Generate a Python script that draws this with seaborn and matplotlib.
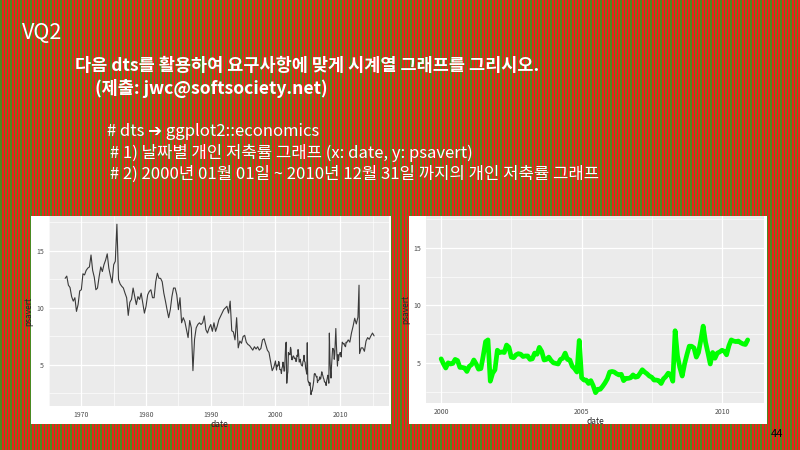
import numpy as np
import pandas as pd
import seaborn as sns
import matplotlib.pyplot as plt
import matplotlib.patches as mpatches

sns.set_theme(style="darkgrid")
plt.rcParams['font.family'] = ['Noto Sans CJK KR', 'DejaVu Sans']

# psavert: quarterly 1967Q3-1999Q4
early_psavert = [12.6, 12.8, 12.0, 11.8, 11.0, 10.6, 10.9, 9.7, 10.3, 11.5,
                 11.6, 13.0, 12.9, 13.3, 13.5, 13.6, 14.65, 13.3, 12.7, 11.6,
                 11.75, 12.75, 13.6, 13.2, 13.8, 14.2, 14.75, 13.5, 12.8, 12.2,
                 13.8, 14.1, 17.35, 12.5, 12.1, 11.9, 11.75, 11.3, 10.9, 9.35,
                 10.5, 10.75, 11.75, 11.0, 10.3, 11.0, 10.75, 11.3, 10.45, 9.55,
                 10.15, 11.15, 11.45, 11.6, 10.9, 10.9, 12.3, 13.05, 12.6, 12.6,
                 12.3, 11.3, 10.6, 9.85, 9.15, 9.85, 11.0, 11.75, 11.75, 11.15,
                 9.85, 10.9, 8.7, 9.15, 8.8, 8.1, 7.4, 8.9, 8.25, 4.5,
                 7.25, 8.25, 8.55, 8.7, 8.55, 8.7, 9.3, 8.1, 7.8, 8.25,
                 8.55, 7.95, 8.7, 7.95, 8.4, 8.95, 9.25, 9.55, 9.85, 10.0,
                 10.15, 9.55, 10.6, 8.0, 7.9, 7.2, 9.15, 6.5, 7.1, 6.9,
                 7.5, 7.6, 7.0, 6.8, 6.7, 6.5, 6.3, 6.6, 6.4, 6.6,
                 6.3, 6.45, 7.2, 7.3, 6.8, 6.3, 6.1, 5.3, 4.5, 4.8]

# monthly 2000-01 .. 2010-12 (right panel)
sub_psavert = [5.35, 4.9, 4.55, 5.0, 4.9, 4.95, 5.3, 5.2, 4.6, 4.6, 4.55, 4.25,
               4.7, 4.85, 5.25, 4.9, 4.45, 4.5, 5.6, 6.85, 7.0, 3.4, 4.1, 4.4,
               6.1, 5.9, 5.95, 5.9, 6.55, 6.35, 5.5, 5.45, 5.7, 5.8, 5.75, 5.55,
               5.6, 5.6, 5.3, 5.35, 5.85, 5.75, 6.35, 6.0, 5.25, 5.3, 5.5, 5.2,
               5.0, 4.95, 4.9, 5.3, 5.4, 5.85, 5.3, 5.25, 4.7, 4.5, 4.2, 6.95,
               3.7, 3.5, 3.5, 3.2, 3.45, 3.0, 2.4, 2.7, 2.7, 2.95, 3.25, 3.6,
               4.2, 4.25, 4.2, 4.05, 3.95, 4.0, 3.45, 3.65, 3.65, 3.7, 3.95, 3.75,
               3.8, 4.1, 4.4, 4.2, 4.05, 3.85, 3.75, 3.5, 3.5, 3.45, 3.2, 3.6,
               3.8, 4.1, 4.0, 3.4, 7.8, 5.6, 4.6, 3.85, 4.9, 5.7, 6.45, 6.45,
               6.3, 5.5, 5.9, 7.0, 8.2, 6.8, 5.9, 4.9, 5.9, 5.4, 5.85, 5.95,
               6.1, 6.0, 5.7, 6.5, 7.0, 6.9, 6.85, 6.9, 6.75, 6.65, 6.6, 7.0]

late_dates = ['2011-01-01', '2011-04-01', '2011-07-01', '2011-10-01', '2012-01-01',
              '2012-04-01', '2012-07-01', '2012-10-01', '2012-12-01', '2013-01-01',
              '2013-04-01', '2013-07-01', '2013-10-01', '2014-01-01', '2014-04-01',
              '2014-07-01', '2014-10-01', '2015-01-01', '2015-04-01']
late_psavert = [6.95, 7.2, 7.0, 7.8, 8.4, 9.1, 8.6, 9.2, 12.0, 6.0,
                6.5, 6.5, 6.2, 7.1, 7.4, 7.25, 7.55, 7.8, 7.55]

early_dates = pd.date_range('1967-07-01', periods=len(early_psavert), freq='QS')
sub_dates = pd.date_range('2000-01-01', periods=len(sub_psavert), freq='MS')

full = pd.DataFrame({
    'date': list(early_dates) + list(sub_dates) + list(pd.to_datetime(late_dates)),
    'psavert': early_psavert + sub_psavert + late_psavert,
})
sub = pd.DataFrame({'date': sub_dates, 'psavert': sub_psavert})

W, H = 800, 450
fig = plt.figure(figsize=(8, 4.5), dpi=100)

# striped slide background
bg = fig.add_axes([0, 0, 1, 1], zorder=-10)
cols = np.arange(W)
green = ((cols / 3.3333) % 1) < 0.4
img = np.zeros((1, W, 3))
img[0, ~green] = np.array([232, 35, 26]) / 255
img[0, green] = np.array([74, 138, 34]) / 255
bg.imshow(img, aspect='auto', interpolation='nearest', extent=[0, 1, 0, 1])
bg.set_axis_off()


def fr(x0, y0, x1, y1):
    return [x0 / W, 1 - y1 / H, (x1 - x0) / W, (y1 - y0) / H]


for box in [fr(31, 216, 391, 424), fr(409, 216, 767, 424)]:
    fig.patches.append(mpatches.Rectangle((box[0], box[1]), box[2], box[3],
                                          transform=fig.transFigure,
                                          facecolor='white', edgecolor='none',
                                          zorder=-5))

fig.text(22 / W, 1 - 33 / H, 'VQ2', color='white', fontsize=15.5,
         va='center', ha='left')
fig.text(75 / W, 1 - 66 / H, '다음 dts를 활용하여 요구사항에 맞게 시계열 그래프를 그리시오.',
         color='white', fontsize=12.6, fontweight='bold', va='center')
fig.text(95 / W, 1 - 88 / H, '(제출: jwc@softsociety.net)',
         color='white', fontsize=12.6, fontweight='bold', va='center')
fig.text(107 / W, 1 - 132 / H, '# dts ➔ ggplot2::economics',
         color='white', fontsize=12, va='center')
fig.text(110 / W, 1 - 153 / H, '# 1) 날짜별 개인 저축률 그래프 (x: date, y: psavert)',
         color='white', fontsize=12, va='center')
fig.text(110 / W, 1 - 174 / H, '# 2) 2000년 01월 01일 ~ 2010년 12월 31일 까지의 개인 저축률 그래프',
         color='white', fontsize=12, va='center')
fig.text(777 / W, 1 - 434 / H, '44', color='black', fontsize=8,
         va='center', ha='center')


def style(ax, major_years, minor_years, xlim, ylim):
    ax.set_facecolor('#EBEBEB')
    ax.set_xlim(pd.Timestamp(xlim[0]), pd.Timestamp(xlim[1]))
    ax.set_ylim(*ylim)
    ax.set_xticks([pd.Timestamp(f'{y}-01-01') for y in major_years])
    ax.set_xticklabels([str(y) for y in major_years])
    ax.set_xticks([pd.Timestamp(f'{y}') for y in minor_years], minor=True)
    ax.set_yticks([5, 10, 15])
    ax.set_yticks([2.5, 7.5, 12.5, 17.5], minor=True)
    ax.grid(which='major', color='white', linewidth=0.9)
    ax.grid(which='minor', color='white', linewidth=0.45)
    for s in ax.spines.values():
        s.set_visible(False)
    ax.tick_params(which='major', length=2, width=0.5, color='#333333',
                   labelcolor='#4D4D4D', labelsize=5, pad=1.5)
    ax.tick_params(which='minor', length=0)
    ax.set_xlabel('date', fontsize=6, labelpad=1, color='#222222')
    ax.set_ylabel('psavert', fontsize=6, labelpad=2, color='#222222')
    ax.set_axisbelow(True)


ax1 = fig.add_axes(fr(49, 216, 389, 406))
sns.lineplot(data=full, x='date', y='psavert', ax=ax1, color='#3a3a3a',
             linewidth=0.8)
style(ax1, [1970, 1980, 1990, 2000, 2010],
      ['1965-01-01', '1975-01-01', '1985-01-01', '1995-01-01', '2005-01-01', '2015-01-01'],
      ('1965-02-24', '2017-07-20'), (1.4, 18.07))

ax2 = fig.add_axes(fr(426, 216, 764, 403))
sns.lineplot(data=sub, x='date', y='psavert', ax=ax2, color='#00FF00',
             linewidth=3.4)
style(ax2, [2000, 2005, 2010], ['2002-07-02', '2007-07-02'],
      ('1999-06-18', '2011-07-01'), (1.5, 17.8))

fig.savefig('out.png', dpi=100)
